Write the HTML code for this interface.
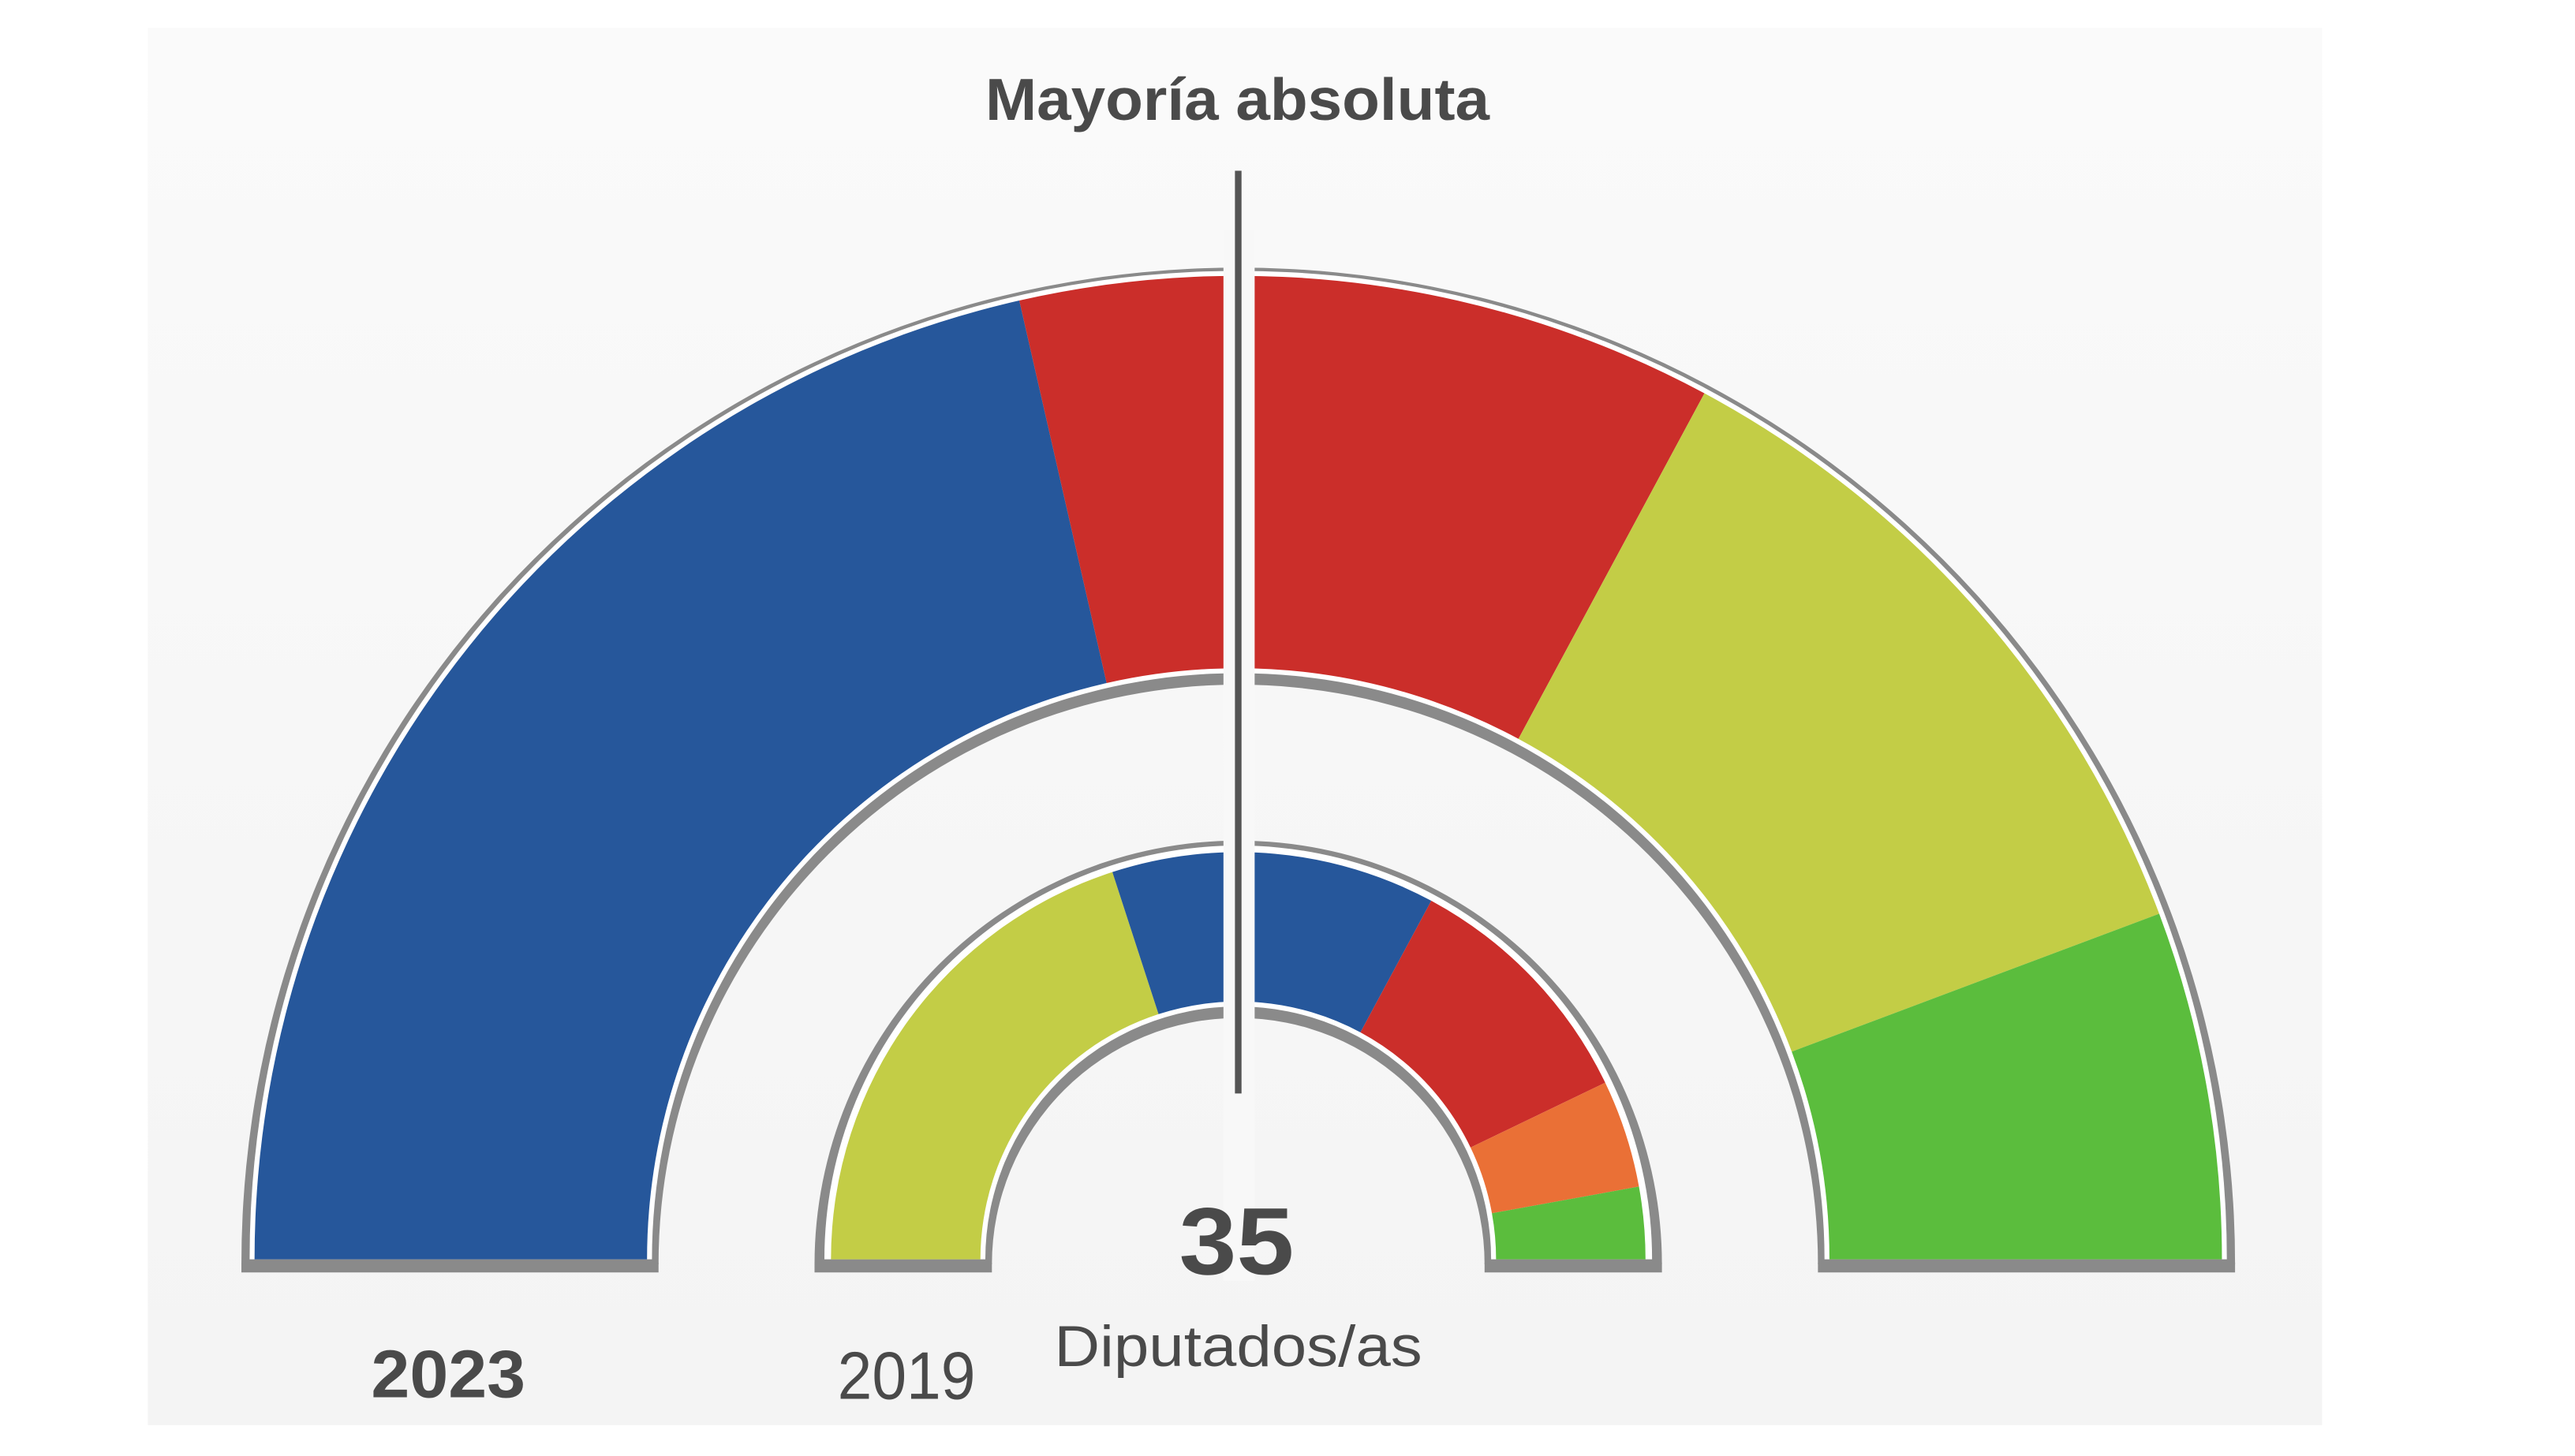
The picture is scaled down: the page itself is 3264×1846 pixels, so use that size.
<!DOCTYPE html>
<html><head><meta charset="utf-8"><style>
html,body{margin:0;padding:0;background:#fff;width:3264px;height:1846px;overflow:hidden}
svg{display:block}
text{font-family:"Liberation Sans",sans-serif;fill:#4a4a4a}
</style></head><body>
<svg id="s" width="3264" height="1846" viewBox="0 0 1568 886.8" preserveAspectRatio="none" xmlns="http://www.w3.org/2000/svg">
<defs><linearGradient id="bg" x1="0" y1="0" x2="0" y2="1"><stop offset="0" stop-color="#fafafa"/><stop offset="1" stop-color="#f4f4f4"/></linearGradient></defs>
<rect x="90" y="17" width="1324" height="851" fill="url(#bg)"/>
<g id="arcs"></g>
<rect x="745" y="140" width="19" height="640" fill="#f8f8f8"/>
<rect x="752" y="104" width="4" height="562" fill="#555"/>
<text x="600" y="73" font-size="36" font-weight="bold" textLength="307" lengthAdjust="spacingAndGlyphs">Mayoría absoluta</text>
<text x="718" y="776" font-size="58" font-weight="bold" textLength="70" lengthAdjust="spacingAndGlyphs">35</text>
<text x="642" y="832" font-size="35" textLength="224" lengthAdjust="spacingAndGlyphs">Diputados/as</text>
<text x="226" y="851" font-size="41" font-weight="bold" textLength="94" lengthAdjust="spacingAndGlyphs">2023</text>
<text x="510" y="852" font-size="41" textLength="84" lengthAdjust="spacingAndGlyphs">2019</text>
</svg>
<script>
var cx=754,NS="http://www.w3.org/2000/svg",g=document.getElementById("arcs");
function seg(cy,r1,r2,a1,a2,fill){
 function p(r,a){a=a*Math.PI/180;return (cx+r*Math.cos(a)).toFixed(2)+","+(cy-r*Math.sin(a)).toFixed(2);}
 var d="M"+p(r2,a1)+" A"+r2+","+r2+" 0 0 0 "+p(r2,a2)+" L"+p(r1,a2)+" A"+r1+","+r1+" 0 0 1 "+p(r1,a1)+"Z";
 var e=document.createElementNS(NS,"path");e.setAttribute("d",d);e.setAttribute("fill",fill);g.appendChild(e);
}
function half(cy,r1,r2,fill){seg(cy,r1,r2,0,90,fill);seg(cy,r1,r2,89.9,180,fill);}
function rect(x,y,w,h,f){var e=document.createElementNS(NS,"rect");e.setAttribute("x",x);e.setAttribute("y",y);e.setAttribute("width",w);e.setAttribute("height",h);e.setAttribute("fill",f);g.appendChild(e);}
var B="#26579b",R="#cb2e2a",L="#c3cd46",G="#5bbd3d",O="#ea7036",GR="#8a8a8a";
half(770,353,607,GR);rect(cx-607,769,254,6,GR);rect(cx+353,769,254,6,GR);
half(767,357,602,"#fff");
var big=[[180,102.86,B],[102.86,61.71,R],[61.71,20.57,L],[20.57,0,G]];
big.forEach(function(s){seg(767,360,599,s[1],s[0],s[2]);});
half(770,150,258,GR);rect(cx-258,769,108,6,GR);rect(cx+150,769,108,6,GR);
half(767,154,252,"#fff");
var sm=[[180,108,L],[108,61.71,B],[61.71,25.71,R],[25.71,10.29,O],[10.29,0,G]];
sm.forEach(function(s){seg(767,157,248,s[1],s[0],s[2]);});
</script>
</body></html>
